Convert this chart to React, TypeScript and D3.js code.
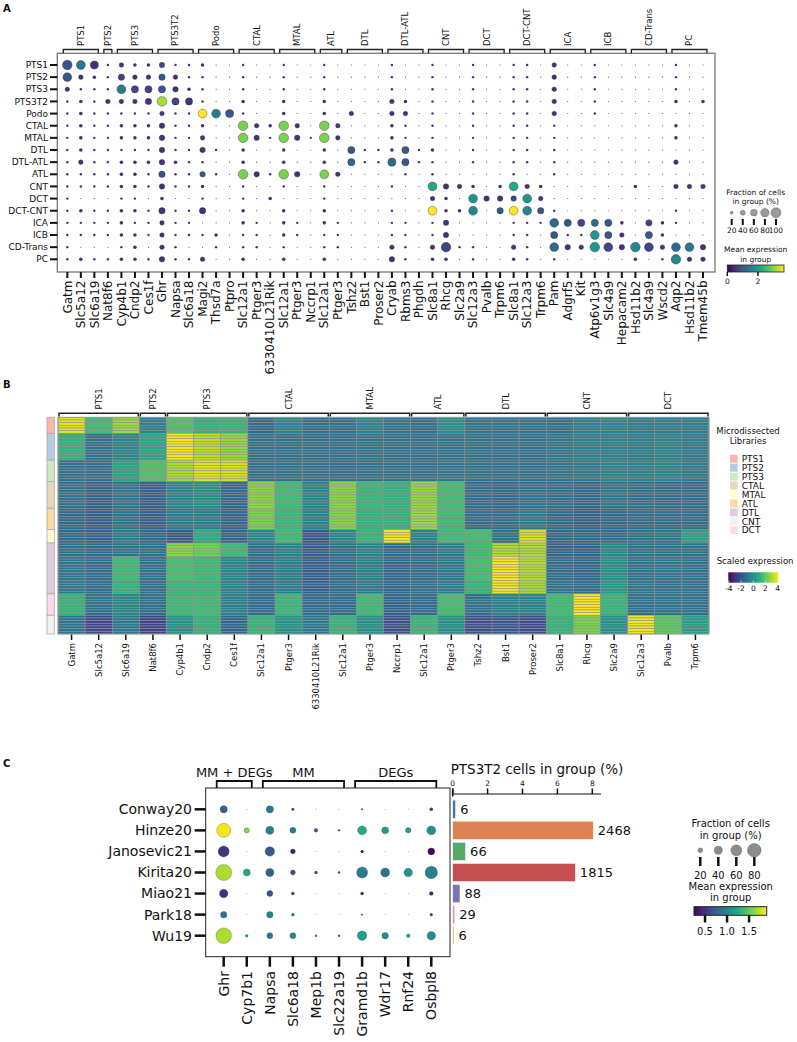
import React, { useEffect, useRef } from "react";
import * as d3 from "d3";

const W = 797;
const H = 1042;
const FONT = "'DejaVu Sans', sans-serif";

// ---------- Panel A: marker dot plot ----------
const dotCellTypes = ["PTS1", "PTS2", "PTS3", "PTS3T2", "Podo", "CTAL", "MTAL", "DTL", "DTL-ATL", "ATL", "CNT", "DCT", "DCT-CNT", "ICA", "ICB", "CD-Trans", "PC"];
const dotGroupNames = ["PTS1", "PTS2", "PTS3", "PTS3T2", "Podo", "CTAL", "MTAL", "ATL", "DTL", "DTL-ATL", "CNT", "DCT", "DCT-CNT", "ICA", "ICB", "CD-Trans", "PC"];
const dotGroupSizes = [3, 1, 3, 3, 3, 3, 3, 2, 3, 3, 3, 3, 3, 3, 3, 3, 3];
const dotGenes = ["Gatm", "Slc5a12", "Slc6a19", "Nat8f6", "Cyp4b1", "Cndp2", "Ces1f", "Ghr", "Napsa", "Slc6a18", "Magi2", "Thsd7a", "Ptpro", "Slc12a1", "Ptger3", "6330410L21Rik", "Slc12a1", "Ptger3", "Nccrp1", "Slc12a1", "Ptger3", "Tshz2", "Bst1", "Proser2", "Cryab", "Rbms3", "Phgdh", "Slc8a1", "Rhcg", "Slc2a9", "Slc12a3", "Pvalb", "Trpm6", "Slc8a1", "Slc12a3", "Trpm6", "Pam", "Adgrf5", "Kit", "Atp6v1g3", "Slc4a9", "Hepacam2", "Hsd11b2", "Slc4a9", "Wscd2", "Aqp2", "Hsd11b2", "Tmem45b"];
// fraction of cells, one digit per gene: level -> percent
const fracLevels = [5, 15, 25, 35, 45, 55, 65, 75, 85, 95];
const dotFracCodes = [
  "9871322411 2001001001 0000100100 1001103001 00000100",
  "8321533531 1001001001 0000100100 1001103001 00000100",
  "3111866642 1001001001 0000100100 1001103001 00000100",
  "1213335966 1002002002 0000320100 1001103001 00000202",
  "1211111311 8871002002 0300330100 1001103001 00000000",
  "1211222411 2009329309 3000210100 1001101000 00000200",
  "1211222411 3009419419 3000210100 1001101000 00000200",
  "1211111411 4102002002 0611261200 1001101000 00000000",
  "1311222421 1002002002 0611761100 1001101000 00000300",
  "1111221511 4109419408 3000010100 0001001000 00000000",
  "1111221411 2001001001 0000100843 2028320000 00200333",
  "1000110200 1001020001 0000000320 8444830000 00000000",
  "1211221511 5002002002 0000100822 8058851000 00000100",
  "1111211311 0002102102 1000110140 0001118666 62052100",
  "1111221311 1201102101 1000110140 0001106118 63062000",
  "1000120310 0101101001 1000310391 1003108439 84983884",
  "1211221411 3002002002 0000410220 1002101000 00201933",
];
// mean expression, one hex digit per gene: value = d / 15 * exprMaxA
const exprMaxA = 3.7;
const dotExprCodes = [
  "4622222322 2222222222 2222222222 2222222222 22222222",
  "4222322422 2222222222 2222222222 2222222222 22222222",
  "2222633422 2222222222 2222222222 2222222222 22222222",
  "2222222d32 2222222222 2222222222 2222222222 22222222",
  "2222222222 f642222222 2222222222 2222222222 22222222",
  "2222222222 222c22c22c 2222222222 2222222222 22222222",
  "2222222222 222c22c22c 2222222222 2222222222 22222222",
  "2222222222 2222222222 2422242222 2222222222 22222222",
  "2222222222 2222222222 2522542222 2222222222 22222222",
  "2222222422 422c22c22c 2222222222 2222222222 22222222",
  "2222222222 2222222222 2222222922 2229222222 22222222",
  "2222222222 2222222222 2222222222 8223822222 22222222",
  "2222222222 2222222222 2222222f22 724f742222 22222222",
  "2222222222 2222222222 2222222222 2222225435 42232222",
  "2222222222 2222222222 2222222222 2222224228 42242222",
  "2222222222 2222222222 2222222232 2222225228 32732562",
  "2222222222 2222222222 2222222222 2222222222 22222722",
];
const fracLegendA = [20, 40, 60, 80, 100];
const exprTicksA = [0, 2];

// ---------- Panel B: heatmap ----------
const heatGenes = ["Gatm", "Slc5a12", "Slc6a19", "Nat8f6", "Cyp4b1", "Cndp2", "Ces1f", "Slc12a1", "Ptger3", "6330410L21Rik", "Slc12a1", "Ptger3", "Nccrp1", "Slc12a1", "Ptger3", "Tshz2", "Bst1", "Proser2", "Slc8a1", "Rhcg", "Slc2a9", "Slc12a3", "Pvalb", "Trpm6"];
const heatGroupNames = ["PTS1", "PTS2", "PTS3", "CTAL", "MTAL", "ATL", "DTL", "CNT", "DCT"];
const heatGroupSizes = [3, 1, 3, 3, 3, 2, 3, 3, 3];
const libNames = ["PTS1", "PTS2", "PTS3", "CTAL", "MTAL", "ATL", "DTL", "CNT", "DCT"];
const libColors = ["#fbb4ae", "#b3cde3", "#ccebc5", "#e5d8bd", "#ffffcc", "#fed9a6", "#decbe4", "#f2f2f2", "#fddaec"];
const libOrder = ["PTS1", "PTS2", "PTS3", "CTAL", "ATL", "MTAL", "DTL", "DCT", "CNT"];
const libCounts = [6, 10, 8, 10, 8, 5, 19, 8, 7];
const heatBlockCounts = [6, 10, 8, 10, 8, 5, 5, 9, 5, 8, 7];
const heatBlockValues = [
  [3.6, 1.5, 2.8, -0.5, 1.8, 1.2, 1.3, -1.2, -0.3, -1.0, -1.0, -0.3, -0.9, -1.0, 0.0, -0.9, -0.9, -0.9, -1.0, -0.6, -0.3, -0.6, -0.6, -0.6],
  [1.2, -1.0, -0.3, 0.8, 3.9, 3.2, 2.7, -1.0, -1.0, -1.0, -1.0, -0.9, -1.0, -1.0, -0.9, -1.0, -1.0, -1.0, -0.8, -0.6, -0.5, -0.6, -0.4, -0.7],
  [-1.0, -1.1, 0.7, 1.8, 3.0, 3.6, 3.5, -1.0, -1.0, -1.0, -1.1, -1.0, -1.0, -1.0, -0.9, -1.0, -1.0, -1.0, -0.9, -0.8, -0.4, -0.5, -0.3, -0.7],
  [-1.0, -1.5, -0.9, -1.6, -0.3, 0.0, -1.4, 2.6, 1.5, -0.3, 2.6, 1.4, 1.2, 2.7, 1.5, -1.2, -1.3, -1.0, -1.1, -1.3, -0.9, -1.1, -1.2, -1.2],
  [-1.3, -1.6, -1.0, -1.6, -0.8, -0.7, -1.4, 2.4, 1.4, -0.5, 2.5, 1.2, 1.2, 2.8, 1.5, -1.2, -1.2, -0.8, -1.3, -1.5, -1.3, -1.2, -1.2, -1.2],
  [-1.3, -1.5, -0.6, -1.3, -1.8, 1.0, -1.4, -0.2, 1.5, -1.8, -0.2, 1.3, 3.8, -0.4, 1.5, 1.6, -1.0, 3.5, -1.3, -1.3, -1.2, -1.0, -0.9, 0.7],
  [-1.0, -1.3, -1.0, -1.0, 2.6, 2.3, 1.5, -1.2, -0.4, -1.6, -1.1, -0.4, -1.3, -1.2, -0.7, 1.5, 3.0, 3.0, -1.5, -1.5, -0.2, -1.0, -1.0, -1.0],
  [-0.9, -1.2, 1.5, -1.0, 1.7, 1.5, -0.3, -1.2, -0.6, -1.6, -1.2, -0.5, -1.3, -1.2, -0.8, 1.6, 3.9, 3.1, -1.2, -1.4, 0.0, -1.0, -0.9, -1.0],
  [-0.8, -1.2, 1.2, -1.0, 1.4, 1.4, -0.4, -1.2, -0.6, -1.6, -1.2, -0.7, -1.3, -1.0, -0.6, 1.3, 3.8, 2.9, -1.0, -1.2, 0.3, -0.9, -1.0, -1.0],
  [1.3, -1.0, -0.2, -1.0, 1.5, 1.5, -0.5, -1.2, 1.4, -1.2, -1.2, 1.5, -1.4, -1.2, 1.6, -1.0, -0.4, -0.4, 1.5, 3.9, 1.3, -1.0, -0.9, -1.0],
  [-0.9, -2.2, -0.8, -2.4, 0.2, 1.2, -1.4, 1.4, 0.2, -0.8, 1.3, 0.0, -2.0, 1.4, 0.0, -2.0, -1.8, -2.1, 1.3, 2.4, 0.0, 3.8, 2.0, 0.6],
];
const scaledTicks = [-4, -2, 0, 2, 4];

// ---------- Panel C: PTS3T2 markers across studies ----------
const studies = ["Conway20", "Hinze20", "Janosevic21", "Kirita20", "Miao21", "Park18", "Wu19"];
const markerGenes = ["Ghr", "Cyp7b1", "Napsa", "Slc6a18", "Mep1b", "Slc22a19", "Gramd1b", "Wdr17", "Rnf24", "Osbpl8"];
const markerGroupNames = ["MM + DEGs", "MM", "DEGs"];
const markerGroupSizes = [2, 4, 4];
const studyFrac = [
  [35, 2, 35, 11, 2, 2, 6, 2, 2, 13],
  [84, 23, 40, 27, 16, 8, 46, 33, 24, 46],
  [61, 2, 50, 21, 2, 2, 11, 2, 2, 33],
  [100, 33, 40, 21, 13, 8, 61, 46, 43, 72],
  [43, 2, 27, 13, 2, 2, 13, 2, 2, 16],
  [30, 2, 30, 11, 2, 2, 6, 2, 2, 11],
  [97, 11, 27, 27, 8, 8, 50, 30, 16, 43],
];
const studyExpr = [
  [0.75, 0.5, 0.93, 0.66, 0.6, 0.6, 0.58, 0.6, 0.6, 0.5],
  [1.87, 1.6, 0.99, 0.94, 0.75, 0.75, 1.24, 1.16, 1.2, 1.07],
  [0.5, 0.4, 0.71, 0.38, 0.4, 0.4, 0.33, 0.4, 0.4, 0.28],
  [1.7, 1.24, 0.75, 0.58, 0.7, 0.6, 0.94, 0.88, 1.11, 0.99],
  [0.45, 0.5, 0.66, 0.6, 0.5, 0.5, 0.45, 0.5, 0.5, 0.35],
  [0.88, 0.6, 0.99, 0.75, 0.6, 0.6, 0.6, 0.6, 0.6, 0.55],
  [1.7, 0.99, 0.91, 0.99, 0.9, 0.9, 1.19, 1.04, 1.1, 1.04],
];
const pts3t2Pct = [0.17, 8.06, 0.74, 7.03, 0.42, 0.12, 0.08];
const pts3t2Counts = [6, 2468, 66, 1815, 88, 29, 6];
const studyColors = ["#4c72b0", "#dd8452", "#55a868", "#c44e52", "#8172b3", "#da8bc3", "#ccb974"];
const pctTicks = [0, 2, 4, 6, 8];
const fracLegendC = [20, 40, 60, 80];
const exprTicksC = [0.5, 1.0, 1.5];

const App: React.FC = () => {
  const svgRef = useRef<SVGSVGElement>(null);

  useEffect(() => {
    if (!svgRef.current) return;
    const svg = d3.select(svgRef.current);
    svg.selectAll("*").remove();
    svg.append("rect").attr("width", W).attr("height", H).attr("fill", "white");

    const defs = svg.append("defs");
    const grad = defs.append("linearGradient").attr("id", "viridis-grad");
    d3.range(0, 11).forEach((i) => {
      grad.append("stop").attr("offset", `${i * 10}%`).attr("stop-color", d3.interpolateViridis(i / 10));
    });

    const text = (g: any, x: number, y: number, s: string, size: number, anchor = "start", weight = "normal") =>
      g.append("text").attr("x", x).attr("y", y).text(s)
        .attr("text-anchor", anchor)
        .style("font-family", FONT).style("font-size", `${size}px`).style("font-weight", weight)
        .attr("fill", "#111");

    const vtext = (g: any, x: number, y: number, s: string, size: number, anchor: string) =>
      g.append("text").attr("transform", `translate(${x},${y}) rotate(-90)`).attr("dy", "0.35em").text(s)
        .attr("text-anchor", anchor)
        .style("font-family", FONT).style("font-size", `${size}px`).attr("fill", "#111");

    const line = (g: any, x1: number, y1: number, x2: number, y2: number, w: number, c = "#111") =>
      g.append("line").attr("x1", x1).attr("y1", y1).attr("x2", x2).attr("y2", y2).attr("stroke", c).attr("stroke-width", w);

    // panel letters
    text(svg, 3, 12, "A", 10, "start", "bold");
    text(svg, 3, 388, "B", 10, "start", "bold");
    text(svg, 3, 767, "C", 10, "start", "bold");

    // ================= Panel A =================
    const gA = svg.append("g");
    const xA = d3.scaleLinear().domain([0, dotGenes.length - 1]).range([67.3, 703]);
    const yA = d3.scalePoint<string>().domain(dotCellTypes).range([65, 259.3]);
    const rA = (f: number) => 5 * Math.pow(f / 100, 0.75);
    const cA = d3.scaleSequential(d3.interpolateViridis).domain([0, exprMaxA]);

    gA.append("rect").attr("x", 57.3).attr("y", 53.3).attr("width", 715 - 57.3).attr("height", 272 - 53.3)
      .attr("fill", "none").attr("stroke", "#777").attr("stroke-width", 1.3);

    let start = 0;
    dotGroupNames.forEach((name, gi) => {
      const n = dotGroupSizes[gi];
      const x1 = xA(start) - 4;
      const x2 = xA(start + n - 1) + 4;
      gA.append("path").attr("d", `M${x1},53.3V49.5H${x2}V53.3`).attr("fill", "none").attr("stroke", "#222").attr("stroke-width", 1.3);
      vtext(gA, (x1 + x2) / 2, 46, name, 8.5, "start");
      start += n;
    });

    dotCellTypes.forEach((ct, ri) => {
      const y = yA(ct)!;
      line(gA, 50, y, 57.3, y, 2);
      text(gA, 48, y, ct, 9, "end").attr("dy", "0.35em");
      const fs = dotFracCodes[ri].replace(/ /g, "");
      const es = dotExprCodes[ri].replace(/ /g, "");
      dotGenes.forEach((_, ci) => {
        const f = fracLevels[parseInt(fs[ci], 10)];
        const e = (parseInt(es[ci], 16) / 15) * exprMaxA;
        gA.append("circle").attr("cx", xA(ci)).attr("cy", y).attr("r", rA(f))
          .attr("fill", cA(e)).attr("stroke", "#333").attr("stroke-width", f > 30 ? 0.4 : 0);
      });
    });

    dotGenes.forEach((gname, ci) => {
      const x = xA(ci);
      line(gA, x, 272, x, 278, 2);
      vtext(gA, x, 280.5, gname, 12, "end");
    });

    // legend A
    text(gA, 755.7, 195, "Fraction of cells", 7.5, "middle");
    text(gA, 755.7, 204, "in group (%)", 7.5, "middle");
    const lxA = d3.scaleLinear().domain([0, fracLegendA.length - 1]).range([731.7, 776]);
    fracLegendA.forEach((f, i) => {
      gA.append("circle").attr("cx", lxA(i)).attr("cy", 212.7).attr("r", rA(f)).attr("fill", "#999").attr("stroke", "#555").attr("stroke-width", 0.4);
      line(gA, lxA(i), 219, lxA(i), 225, 2);
      text(gA, lxA(i), 233, String(f), 7.5, "middle");
    });
    text(gA, 755.7, 252, "Mean expression", 7.5, "middle");
    text(gA, 755.7, 261.5, "in group", 7.5, "middle");
    const cbA = d3.scaleLinear().domain([0, exprMaxA]).range([727.3, 784]);
    gA.append("rect").attr("x", 727.3).attr("y", 265).attr("width", 784 - 727.3).attr("height", 7)
      .attr("fill", "url(#viridis-grad)").attr("stroke", "#222").attr("stroke-width", 0.8);
    exprTicksA.forEach((t) => {
      line(gA, cbA(t), 272, cbA(t), 276, 1.5);
      text(gA, cbA(t), 284, String(t), 7.5, "middle");
    });

    // ================= Panel B =================
    const gB = svg.append("g");
    const totalRows = d3.sum(heatBlockCounts);
    const xB = d3.scaleBand<number>().domain(d3.range(heatGenes.length)).range([58, 709]);
    const yB = d3.scaleBand<number>().domain(d3.range(totalRows)).range([417.3, 634]);
    const cB = d3.scaleSequential(d3.interpolateViridis).domain([-4, 4]);
    const bw = xB.bandwidth();
    const bh = yB.bandwidth();

    const rowValues: number[][] = [];
    heatBlockCounts.forEach((n, bi) => {
      for (let k = 0; k < n; k++) rowValues.push(heatBlockValues[bi]);
    });
    rowValues.forEach((vals, ri) => {
      vals.forEach((v, ci) => {
        gB.append("rect").attr("x", xB(ci)!).attr("y", yB(ri)!).attr("width", bw).attr("height", bh)
          .attr("fill", cB(v)).attr("stroke", "#8e8e8e").attr("stroke-width", 0.55);
      });
    });
    gB.append("rect").attr("x", 58).attr("y", 417.3).attr("width", 709 - 58).attr("height", 634 - 417.3)
      .attr("fill", "none").attr("stroke", "#999").attr("stroke-width", 1);

    // library sidebar
    let rs = 0;
    libOrder.forEach((lib, li) => {
      const n = libCounts[li];
      const y0 = yB(rs)!;
      gB.append("rect").attr("x", 47).attr("y", y0).attr("width", 7.3).attr("height", n * bh)
        .attr("fill", libColors[libNames.indexOf(lib)]).attr("stroke", "#aaa").attr("stroke-width", 0.8);
      rs += n;
    });

    let hs = 0;
    heatGroupNames.forEach((name, gi) => {
      const n = heatGroupSizes[gi];
      const x1 = xB(hs)! + 1;
      const x2 = xB(hs + n - 1)! + bw - 1;
      gB.append("path").attr("d", `M${x1},416.5V413.3H${x2}V416.5`).attr("fill", "none").attr("stroke", "#222").attr("stroke-width", 1.5);
      vtext(gB, (x1 + x2) / 2, 409.5, name, 8.5, "start");
      hs += n;
    });

    heatGenes.forEach((gname, ci) => {
      const x = xB(ci)! + bw / 2;
      line(gB, x, 634.5, x, 640, 1.5);
      vtext(gB, x, 643, gname, 8.5, "end");
    });

    // legend B
    text(gB, 748, 434, "Microdissected", 8.5, "middle");
    text(gB, 748, 444, "Libraries", 8.5, "middle");
    libNames.forEach((lib, i) => {
      const y = 458.7 + i * 8.95;
      gB.append("rect").attr("x", 730).attr("y", y - 4).attr("width", 7.7).attr("height", 8).attr("fill", libColors[i]);
      text(gB, 741.7, y, lib, 9, "start").attr("dy", "0.35em");
    });
    text(gB, 716.7, 563.5, "Scaled expression", 8.5, "start");
    const cbB = d3.scaleLinear().domain([-4.1, 4.1]).range([728.3, 778.3]);
    gB.append("rect").attr("x", 728.3).attr("y", 572.3).attr("width", 50).attr("height", 10.4).attr("fill", "url(#viridis-grad)");
    scaledTicks.forEach((t) => {
      line(gB, cbB(t), 580.5, cbB(t), 582.7, 0.8, "#ddd");
      text(gB, cbB(t), 590.5, String(t), 7.5, "middle");
    });

    // ================= Panel C =================
    const gC = svg.append("g");
    const xC = d3.scaleLinear().domain([0, markerGenes.length - 1]).range([223.7, 431.3]);
    const yC = d3.scalePoint<string>().domain(studies).range([809.3, 935.7]);
    const rC = (f: number) => 8 * Math.pow(f / 100, 0.75);
    const cC = d3.scaleSequential(d3.interpolateViridis).domain([0.25, 1.9]);

    gC.append("rect").attr("x", 205.7).attr("y", 788).attr("width", 450 - 205.7).attr("height", 956.7 - 788)
      .attr("fill", "none").attr("stroke", "#222").attr("stroke-width", 1);

    let ms = 0;
    markerGroupNames.forEach((name, gi) => {
      const n = markerGroupSizes[gi];
      const x1 = xC(ms) - 7;
      const x2 = xC(ms + n - 1) + 5;
      gC.append("path").attr("d", `M${x1},788V781H${x2}V788`).attr("fill", "none").attr("stroke", "#111").attr("stroke-width", 1.8);
      text(gC, (x1 + x2) / 2, 776.5, name, 13, "middle");
      ms += n;
    });

    studies.forEach((s, ri) => {
      const y = yC(s)!;
      line(gC, 194.7, y, 205.7, y, 2.5);
      text(gC, 192, y, s, 14, "end").attr("dy", "0.35em");
      markerGenes.forEach((_, ci) => {
        const f = studyFrac[ri][ci];
        gC.append("circle").attr("cx", xC(ci)).attr("cy", y).attr("r", rC(f))
          .attr("fill", cC(studyExpr[ri][ci])).attr("stroke", "#444").attr("stroke-width", f > 20 ? 0.3 : 0);
      });
    });
    markerGenes.forEach((gname, ci) => {
      const x = xC(ci);
      line(gC, x, 956.7, x, 966.7, 2.5);
      vtext(gC, x, 971, gname, 14, "end");
    });

    // bar chart of PTS3T2 share
    const xBar = d3.scaleLinear().domain([0, 8]).range([452.7, 592.3]);
    studies.forEach((s, ri) => {
      const y = yC(s)!;
      gC.append("rect").attr("x", xBar(0)).attr("y", y - 9.2).attr("width", xBar(pts3t2Pct[ri]) - xBar(0)).attr("height", 18.4)
        .attr("fill", studyColors[ri]).attr("stroke", "white").attr("stroke-width", 0.6);
      text(gC, xBar(pts3t2Pct[ri]) + 4.5, y, String(pts3t2Counts[ri]), 13, "start").attr("dy", "0.35em");
    });
    line(gC, 452.7, 794, 601, 794, 1);
    line(gC, 452.7, 788.5, 452.7, 796.5, 1.5);
    pctTicks.forEach((t) => {
      line(gC, xBar(t), 788.5, xBar(t), 794, 1.5);
      text(gC, xBar(t), 785.5, String(t), 7.5, "middle");
    });
    text(gC, 450.7, 774, "PTS3T2 cells in group (%)", 13.5, "start");

    // legend C
    text(gC, 730.7, 826.5, "Fraction of cells", 10, "middle");
    text(gC, 730.7, 838.8, "in group (%)", 10, "middle");
    const lxC = d3.scaleLinear().domain([0, fracLegendC.length - 1]).range([700.3, 754.3]);
    fracLegendC.forEach((f, i) => {
      gC.append("circle").attr("cx", lxC(i)).attr("cy", 850.3).attr("r", rC(f)).attr("fill", "#8c8c8c").attr("stroke", "#555").attr("stroke-width", 0.4);
      line(gC, lxC(i), 857, lxC(i), 866, 2.5);
      text(gC, lxC(i), 878.5, String(f), 10, "middle");
    });
    text(gC, 730.7, 889.5, "Mean expression", 10, "middle");
    text(gC, 730.7, 901, "in group", 10, "middle");
    const cbC = d3.scaleLinear().domain([0.25, 1.9]).range([694, 766.7]);
    gC.append("rect").attr("x", 694).attr("y", 906.7).attr("width", 766.7 - 694).attr("height", 8.6)
      .attr("fill", "url(#viridis-grad)").attr("stroke", "#222").attr("stroke-width", 1);
    exprTicksC.forEach((t) => {
      line(gC, cbC(t), 915.3, cbC(t), 922.5, 2.5);
      text(gC, cbC(t), 934.5, t.toFixed(1), 10, "middle");
    });
  }, []);

  return (
    <div style={{ position: "absolute", left: 0, top: 0 }}>
      <svg ref={svgRef} width={W} height={H} viewBox={`0 0 ${W} ${H}`} style={{ display: "block" }} />
    </div>
  );
};

export default App;
